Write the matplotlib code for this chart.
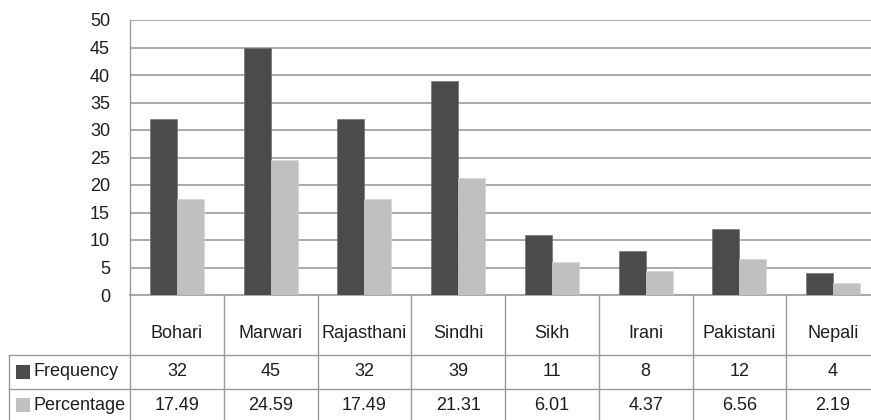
import matplotlib
matplotlib.use("Agg")
import matplotlib.pyplot as plt
import numpy as np
from matplotlib.lines import Line2D
from matplotlib.patches import Rectangle
from matplotlib.transforms import blended_transform_factory

# Data
categories = ["Bohari", "Marwari", "Rajasthani", "Sindhi", "Sikh", "Irani", "Pakistani", "Nepali"]
frequency = [32, 45, 32, 39, 11, 8, 12, 4]
percentage = [17.49, 24.59, 17.49, 21.31, 6.01, 4.37, 6.56, 2.19]
series_names = ["Frequency", "Percentage"]
y_ticks = list(range(0, 55, 5))

plt.rcParams['font.family'] = ['Liberation Sans', 'DejaVu Sans']

W, H = 871, 420
fig = plt.figure(figsize=(W / 100, H / 100), dpi=100)


def fx(px):
    return px / W


def fy(py):
    return 1 - py / H


dark = "#4b4b49"
light = "#c0c1bf"
grid_c = "#a4a4a4"
line_c = "#9a9a9a"
text_c = "#1e1e1e"
fs = 13

# Plot area (extends slightly past the right edge of the canvas)
left, right, top, bottom = 130, 880, 20, 295
ax = fig.add_axes([fx(left), fy(bottom), (right - left) / W, (bottom - top) / H])
x = np.arange(len(categories))
bw = 0.287
ax.bar(x - bw / 2, frequency, bw, color=dark, edgecolor="#6a6a68", linewidth=0.4, zorder=3)
ax.bar(x + bw / 2, percentage, bw, color=light, edgecolor="#d4d5d3", linewidth=0.4, zorder=3)
ax.set_xlim(-0.5, len(categories) - 0.5)
ax.set_ylim(0, 50)
ax.set_yticks(y_ticks)
ax.set_xticks([])
ax.yaxis.grid(True, color=grid_c, linewidth=1.3)
ax.set_axisbelow(True)
for s in ["top", "right"]:
    ax.spines[s].set_visible(False)
ax.spines["left"].set_color(line_c)
ax.spines["bottom"].set_color(grid_c)
ax.spines["left"].set_linewidth(1.0)
ax.spines["bottom"].set_linewidth(1.3)
ax.tick_params(axis="y", length=0, pad=14.4, labelsize=fs, labelcolor=text_c)

# Data table below the plot
trans = blended_transform_factory(ax.transData, fig.transFigure)
table_bottom = 425
for b in np.arange(len(categories) + 1) - 0.5:
    fig.add_artist(Line2D([b, b], [fy(bottom), fy(table_bottom)], transform=trans,
                          color=line_c, linewidth=1.0))
for yy in (355, 389):
    fig.add_artist(Line2D([fx(9), 1], [fy(yy), fy(yy)], transform=fig.transFigure,
                          color=line_c, linewidth=1.0))
fig.add_artist(Line2D([fx(9), fx(9)], [fy(355), fy(table_bottom)], transform=fig.transFigure,
                      color=line_c, linewidth=1.0))

for i, cat in enumerate(categories):
    fig.text(i, fy(333), cat, transform=trans, ha="center", va="center",
             fontsize=fs, color=text_c)
    fig.text(i, fy(372), f"{frequency[i]}", transform=trans, ha="center", va="center",
             fontsize=fs, color=text_c)
    fig.text(i, fy(405), f"{percentage[i]:.2f}", transform=trans, ha="center", va="center",
             fontsize=fs, color=text_c)

for name, color, yc in zip(series_names, [dark, light], [372, 405]):
    fig.add_artist(Rectangle((fx(16), fy(yc + 7)), 14 / W, 14 / H, transform=fig.transFigure,
                             facecolor=color, edgecolor="none"))
    fig.text(fx(33), fy(yc), name, ha="left", va="center", fontsize=fs, color=text_c)

fig.savefig("out.png", dpi=100)
